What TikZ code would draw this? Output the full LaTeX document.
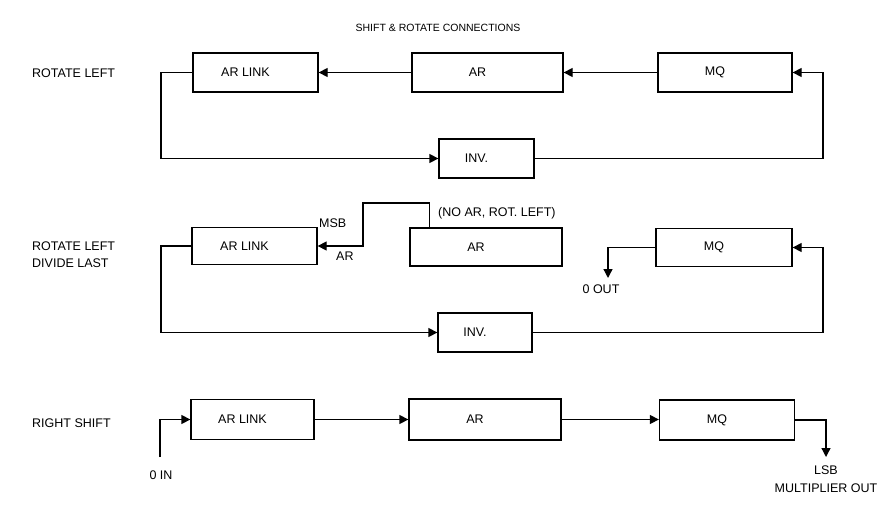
\documentclass[tikz,border=0pt]{standalone}
\usepackage{fontspec}
\setmainfont{Liberation Sans}
\usetikzlibrary{arrows.meta}
\begin{document}
\begin{tikzpicture}[x=1pt,y=-1pt,
  lbl/.style={font=\fontsize{12.5}{15}\selectfont, inner sep=0pt},
  blk/.style={draw, line width=1.3pt, inner sep=0pt, minimum height=39pt,
    label={[lbl,xshift=-10pt]center:#1}},
  arr/.style={line width=1.3pt, -{Triangle[length=9pt,width=9pt]}},
  txt/.style={lbl, anchor=west},
  ctxt/.style={lbl, align=center}]
\useasboundingbox (0,0) rectangle (882,508);

% title
\node[lbl, font=\fontsize{10.5}{12}\selectfont] (title) at (438,28) {SHIFT \& ROTATE CONNECTIONS};

% row labels
\node[txt] (l1) at (32,73) {ROTATE LEFT};
\node[txt, align=left, font=\fontsize{12.5}{17}\selectfont] (l2) at (32,254.5) {ROTATE LEFT\\DIVIDE LAST};
\node[txt] (l3) at (32,423) {RIGHT SHIFT};

% row 1
\node[blk=AR LINK, minimum width=125pt] (arl1) at (255.5,72.5) {};
\node[blk=AR, minimum width=151pt] (ar1) at (487.5,72.5) {};
\node[blk=MQ, minimum width=134pt] (mq1) at (725,72.5) {};
\node[blk=INV., minimum width=95pt] (inv1) at (486.5,158.5) {};
\coordinate (rr) at (823,0);
\coordinate (ll) at (161,0);

\draw[arr] (ar1.west) -- (arl1.east);
\draw[arr] (mq1.west) -- (ar1.east);
\draw[arr] (arl1.west) -- (arl1.west -| ll) |- (inv1.west);
\draw[arr] (inv1.east) -| (rr |- mq1.east) -- (mq1.east);

% row 2
\node[blk=AR LINK, minimum width=125pt, minimum height=37pt] (arl2) at (254.5,246) {};
\node[blk=AR, minimum width=152pt, minimum height=38pt] (ar2) at (486,247) {};
\node[blk=MQ, minimum width=136pt, minimum height=38pt] (mq2) at (724,247.5) {};
\node[blk=INV., minimum width=94pt] (inv2) at (485,332.5) {};
\coordinate (feed) at (363,203);
\coordinate (qout) at (608,278);

\draw[arr] (arl2.west) -- (arl2.west -| ll) |- (inv2.west);
\draw[arr] (inv2.east) -| (rr |- mq2.east) -- (mq2.east);
\draw[arr] ([xshift=20pt]ar2.north west) |- (feed) |- (arl2.east);
\draw[arr] (mq2.west) -| (qout);

\node[txt] (msb) at (319,223) {MSB};
\node[txt] (arlab) at (336,256) {AR};
\node[txt] (noar) at (438,213) {(NO AR, ROT. LEFT)};
\node[lbl] (qoutl) at (601,289) {0 OUT};

% row 3
\node[blk=AR LINK, minimum width=123pt, minimum height=40pt] (arl3) at (252.5,419.5) {};
\node[blk=AR, minimum width=152pt, minimum height=41pt] (ar3) at (485,419.5) {};
\node[blk=MQ, minimum width=135pt, minimum height=40pt] (mq3) at (727,420) {};
\coordinate (zin) at (160,457);
\coordinate (lsb) at (826,457);

\draw[arr] (zin) |- (arl3.west);
\draw[arr] (arl3.east) -- (arl3.east -| ar3.west);
\draw[arr] (ar3.east) -- (ar3.east -| mq3.west);
\draw[arr] (mq3.east) -| (lsb);

\node[lbl] (zinl) at (161,475) {0 IN};
\node[ctxt, font=\fontsize{12.5}{18}\selectfont] (lsbl) at (826,479.5) {LSB\\MULTIPLIER OUT};
\end{tikzpicture}
\end{document}
